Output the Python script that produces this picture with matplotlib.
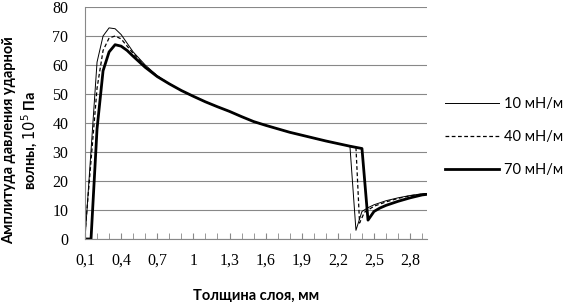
import matplotlib
matplotlib.use("Agg")
import matplotlib.pyplot as plt
from matplotlib.ticker import MultipleLocator

# 10 mN/m
x_10 = [0.1, 0.2, 0.25, 0.3, 0.35, 0.4, 0.45, 0.5, 0.6, 0.7, 0.8, 0.9, 1.0, 1.1, 1.2,
        1.3, 1.4, 1.5, 1.6, 1.7, 1.8, 1.9, 2.0, 2.1, 2.2, 2.3, 2.35, 2.4, 2.45, 2.5,
        2.6, 2.7, 2.8, 2.9, 2.94]
y_10 = [0, 61, 70, 72.8, 72.5, 70.5, 67.5, 64.5, 60, 56.3, 53.5, 51.2, 49.2, 47.3, 45.6,
        44, 42.2, 40.5, 39.2, 38, 36.8, 35.8, 34.8, 33.8, 32.9, 32, 3, 9.5, 10.8, 11.8,
        13.2, 14.2, 15, 15.6, 15.7]

# 40 mN/m
x_40 = [0.1, 0.2, 0.25, 0.3, 0.35, 0.4, 0.45, 0.5, 0.6, 0.7, 0.8, 0.9, 1.0, 1.1, 1.2,
        1.3, 1.4, 1.5, 1.6, 1.7, 1.8, 1.9, 2.0, 2.1, 2.2, 2.3, 2.35, 2.38, 2.42, 2.5,
        2.6, 2.7, 2.8, 2.9, 2.94]
y_40 = [2, 52, 65, 69.3, 70, 69, 66.5, 64, 59.6, 56.2, 53.5, 51.2, 49.2, 47.3, 45.6,
        44, 42.2, 40.5, 39.2, 38, 36.8, 35.8, 34.8, 33.8, 32.9, 32, 31.6, 5.5, 9.2, 11.3,
        12.8, 14, 14.9, 15.5, 15.6]

# 70 mN/m
x_70 = [0.1, 0.15, 0.2, 0.25, 0.3, 0.35, 0.4, 0.45, 0.5, 0.6, 0.7, 0.8, 0.9, 1.0, 1.1,
        1.2, 1.3, 1.4, 1.5, 1.6, 1.7, 1.8, 1.9, 2.0, 2.1, 2.2, 2.3, 2.4, 2.45, 2.5,
        2.55, 2.6, 2.7, 2.8, 2.9, 2.94]
y_70 = [0, 0, 38, 58, 64.5, 67, 66.5, 65, 63, 59.2, 56, 53.5, 51.2, 49.2, 47.3,
        45.6, 44, 42.2, 40.5, 39.2, 38, 36.8, 35.8, 34.8, 33.8, 32.9, 32, 31.2, 6.5, 9.5,
        10.7, 11.6, 13, 14.2, 15.2, 15.4]

labels = ["10 мН/м", "40 мН/м", "70 мН/м"]
x_ticks = [0.1, 0.4, 0.7, 1.0, 1.3, 1.6, 1.9, 2.2, 2.5, 2.8]
x_tick_labels = ["0,1", "0,4", "0,7", "1", "1,3", "1,6", "1,9", "2,2", "2,5", "2,8"]

fig = plt.figure(figsize=(5.7, 3.02), dpi=100)
ax = fig.add_axes([85 / 570, 63 / 302, 342 / 570, 232 / 302])

ax.plot(x_10, y_10, color="black", lw=0.7, label=labels[0])
ax.plot(x_40, y_40, color="black", lw=0.9, ls=(0, (3, 2)), label=labels[1])
ax.plot(x_70, y_70, color="black", lw=2.0, label=labels[2])

ax.set_xlim(0.1, 2.94)
ax.set_ylim(0, 80)
ax.set_xticks(x_ticks)
ax.set_xticklabels(x_tick_labels)
ax.xaxis.set_minor_locator(MultipleLocator(0.1))
ax.yaxis.set_major_locator(MultipleLocator(10))
ax.grid(axis="y", color="#888888", lw=0.8)
ax.set_axisbelow(True)
for s in ["top", "right"]:
    ax.spines[s].set_visible(False)
ax.spines["left"].set_color("#888888")
ax.spines["bottom"].set_color("#888888")
ax.tick_params(axis="y", length=0, pad=12, labelsize=11.5)
ax.tick_params(axis="x", which="both", direction="in", length=4, color="#888888",
               pad=10, labelsize=11.5)
for t in ax.get_xticklabels() + ax.get_yticklabels():
    t.set_family("Liberation Serif")

fig.text(21 / 570, 1 - 140 / 302, "Амплитуда давления ударной\nволны, $10^5$ Па",
         rotation=90, ha="center", va="center", multialignment="center",
         fontsize=10.5, fontweight="bold", family="Lato")
fig.text(256 / 570, 1 - 296 / 302, "Толщина слоя, мм", ha="center", va="center",
         fontsize=10.5, fontweight="bold", family="Lato")

fig.legend(loc="center left", bbox_to_anchor=(445 / 570, 1 - 137 / 302), frameon=False,
           prop={"family": "Lato", "size": 10.5}, handlelength=3.7, handletextpad=0.35,
           labelspacing=1.3, borderpad=0, borderaxespad=0)

fig.savefig("out.png", dpi=100)
